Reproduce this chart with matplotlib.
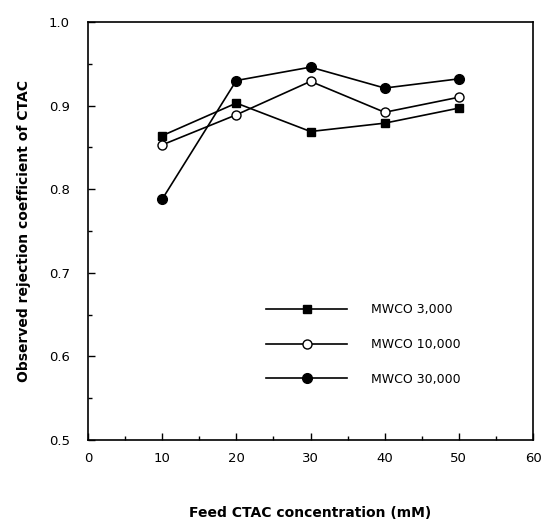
import matplotlib.pyplot as plt
from matplotlib.ticker import MultipleLocator

# data
conc = [10, 20, 30, 40, 50]
mwco_3000 = [0.864, 0.903, 0.869, 0.879, 0.897]
mwco_10000 = [0.853, 0.889, 0.929, 0.892, 0.910]
mwco_30000 = [0.788, 0.930, 0.946, 0.921, 0.932]
labels = ["MWCO 3,000", "MWCO 10,000", "MWCO 30,000"]

plt.rcParams["font.family"] = ["DejaVu Sans"]

fig = plt.figure(figsize=(5.41, 5.20), dpi=100)
ax = fig.add_axes([88 / 541, 80 / 520, 445 / 541, 418 / 520])

ax.plot(conc, mwco_3000, color="black", lw=1.2, marker="s", ms=6,
        mfc="black", mec="black", label=labels[0])
ax.plot(conc, mwco_10000, color="black", lw=1.2, marker="o", ms=6.5,
        mfc="white", mec="black", label=labels[1])
ax.plot(conc, mwco_30000, color="black", lw=1.2, marker="o", ms=7,
        mfc="black", mec="black", label=labels[2])

ax.set_xlim(0, 60)
ax.set_ylim(0.5, 1.0)
ax.xaxis.set_major_locator(MultipleLocator(10))
ax.xaxis.set_minor_locator(MultipleLocator(5))
ax.yaxis.set_major_locator(MultipleLocator(0.1))
ax.yaxis.set_minor_locator(MultipleLocator(0.05))
ax.tick_params(which="both", direction="in", labelsize=9.5, width=1)
ax.tick_params(which="major", length=5)
ax.tick_params(which="minor", length=3)
ax.tick_params(axis="y", pad=13)
ax.tick_params(axis="x", pad=9)
ax.yaxis.set_major_formatter(plt.FormatStrFormatter("%.1f"))
for s in ax.spines.values():
    s.set_linewidth(1.2)

ax.set_xlabel("Feed CTAC concentration (mM)", fontsize=10, fontweight="bold",
              labelpad=29)
ax.set_ylabel("Observed rejection coefficient of CTAC", fontsize=10,
              fontweight="bold", labelpad=13)

ax.legend(loc="upper left", bbox_to_anchor=((266 - 88) / 445, (440 - 303) / 418),
          frameon=False, fontsize=9, handlelength=6.5, handletextpad=1.9,
          labelspacing=1.75, borderpad=0, borderaxespad=0)

fig.savefig("out.png", dpi=100)
